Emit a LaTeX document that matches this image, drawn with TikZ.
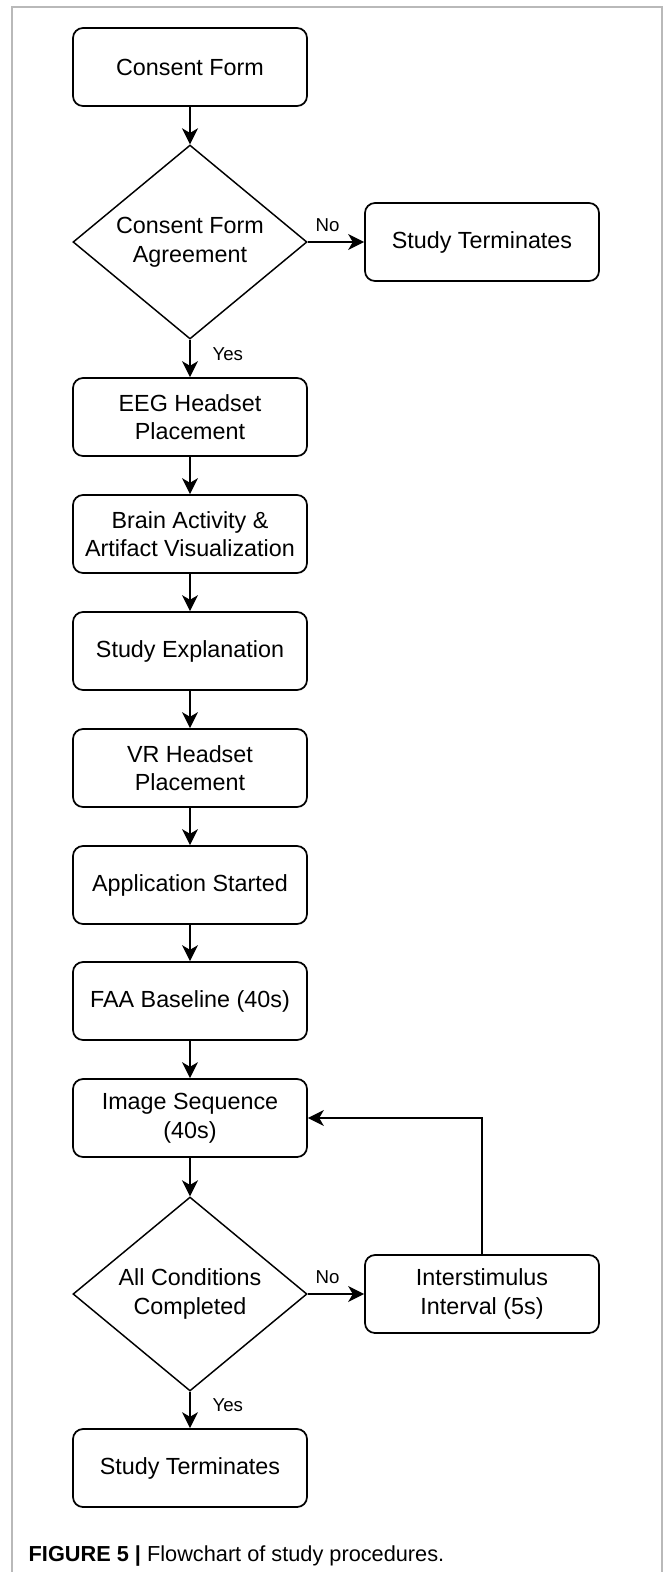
\documentclass[tikz,border=0pt]{standalone}
\usepackage{fontspec}
\setmainfont{Liberation Sans}
\usetikzlibrary{shapes.geometric,arrows.meta}

\tikzstyle{process}=[draw, line width=1.3pt, rounded corners=7.5pt, minimum width=175.5pt, minimum height=58.5pt, align=center, font=\fontsize{17.5}{21.5}\selectfont]
\tikzstyle{decision}=[draw, diamond, aspect=1.2, line width=1.1pt, inner sep=0pt, minimum width=175.5pt, minimum height=145.5pt, align=center, font=\fontsize{17.5}{21.5}\selectfont]
\tikzstyle{arrow}=[line width=1.1pt, -{Stealth[length=12pt, width=12pt, inset=3.5pt]}]
\tikzstyle{choice}=[font=\fontsize{14}{16}\selectfont]
\tikzstyle{frame}=[gray!55, line width=1.5pt]

\begin{document}
\begin{tikzpicture}[x=0.75pt, y=-0.75pt]
      \useasboundingbox (0,0) rectangle (663,1572);
      \draw[frame] (12,1572) -- (12,7) -- (662,7) -- (662,1572);

      \node[process] (cf) at (190, 67) {Consent Form};
      \node[decision] (d1) at (190, 242) {Consent Form\\Agreement};
      \node[process] (st1) at (482, 242) {Study Terminates};
      \node[process] (eeg) at (190, 417) {EEG Headset\\Placement};
      \node[process] (brain) at (190, 534) {Brain Activity \&\\Artifact Visualization};
      \node[process] (expl) at (190, 651) {Study Explanation};
      \node[process] (vr) at (190, 768) {VR Headset\\Placement};
      \node[process] (app) at (190, 885) {Application Started};
      \node[process] (faa) at (190, 1001) {FAA Baseline (40s)};
      \node[process] (img) at (190, 1118) {Image Sequence\\(40s)};
      \node[decision] (d2) at (190, 1294) {All Conditions\\Completed};
      \node[process] (isi) at (482, 1294) {Interstimulus\\Interval (5s)};
      \node[process] (st2) at (190, 1468) {Study Terminates};

      \draw[arrow] (cf) to (d1);
      \draw[arrow] (d1) to node[choice, pos=0.35, above, yshift=4pt] {No} (st1);
      \draw[arrow] (d1) to node[choice, pos=0.38, right, xshift=13pt] {Yes} (eeg);
      \draw[arrow] (eeg) to (brain);
      \draw[arrow] (brain) to (expl);
      \draw[arrow] (expl) to (vr);
      \draw[arrow] (vr) to (app);
      \draw[arrow] (app) to (faa);
      \draw[arrow] (faa) to (img);
      \draw[arrow] (img) to (d2);
      \draw[arrow] (d2) to node[choice, pos=0.35, above, yshift=4pt] {No} (isi);
      \draw[arrow] (d2) to node[choice, pos=0.38, right, xshift=13pt] {Yes} (st2);
      \draw[arrow] (isi) |- (img);

      \node[anchor=west, font=\fontsize{16.3}{19}\selectfont] (caption) at (24, 1556) {\textbf{FIGURE 5 |} Flowchart of study procedures.};
    \end{tikzpicture}
\end{document}
